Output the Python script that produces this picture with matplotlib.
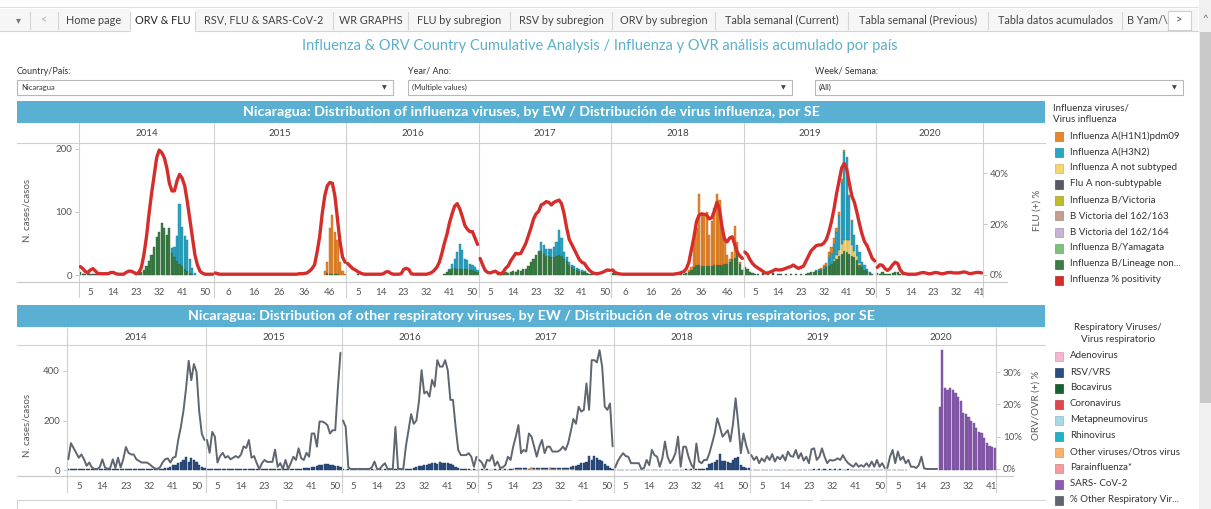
import numpy as np
import matplotlib
matplotlib.use("Agg")
import matplotlib.pyplot as plt
import matplotlib.transforms as mtransforms
from matplotlib.patches import Rectangle
from matplotlib.lines import Line2D
from matplotlib.colors import to_rgb

plt.rcParams["font.family"] = ["Lato", "DejaVu Sans"]

# ---------------- data ----------------
YEARS = [2014, 2015, 2016, 2017, 2018, 2019, 2020]
N_WEEKS = [53, 52, 52, 52, 52, 52, 42]

FLU_TICKS = {2014: [5, 14, 23, 32, 41, 50], 2015: [6, 16, 26, 36, 46], 2016: [5, 14, 23, 32, 41, 50],
             2017: [5, 14, 23, 32, 41, 50], 2018: [6, 16, 26, 36, 46], 2019: [5, 14, 23, 32, 41, 50],
             2020: [5, 14, 23, 32, 41]}
ORV_TICKS = {2014: [5, 14, 23, 32, 41, 50], 2015: [5, 14, 23, 32, 41, 50], 2016: [5, 14, 23, 32, 41, 50],
             2017: [5, 14, 23, 32, 41, 50], 2018: [5, 14, 23, 32, 41, 50], 2019: [5, 14, 23, 32, 41, 50],
             2020: [5, 14, 23, 32, 41]}

# influenza % positivity, weekly
FLU_POS = {
    2014: [3.3, 2.5, 1.3, 1, 2, 2.5, 1.5, 0.5, 0.5, 0.5,
           0.5, 0.5, 1, 1, 0.5, 0.3, 0.3, 0.3, 1, 1.5,
           1.5, 1, 0.5, 1, 3, 8, 15, 24, 32, 39,
           46, 49, 48, 46, 42, 36, 33, 33, 37, 39.5,
           38, 35, 29, 22, 15, 8, 4, 1.5, 0.7, 0.3,
           0.3, 0.3, 0.3],
    2015: [0.8, 0.5, 0.3, 0.3, 0.3, 0.3, 0.3, 0.3, 0.3, 0.3,
           0.3, 0.3, 0.3, 0.3, 0.3, 0.3, 0.3, 0.3, 0.3, 0.3,
           0.3, 0.3, 0.3, 0.3, 0.3, 0.3, 0.3, 0.3, 0.3, 0.3,
           0.3, 0.3, 0.3, 0.5, 0.5, 0.6, 0.8, 1.5, 2.5, 4,
           9, 15, 24, 31, 35, 36.3, 36, 31, 22, 13,
           7, 5],
    2016: [4.5, 3.5, 2.5, 2, 1.3, 0.8, 0.4, 0.3, 0.3, 0.3,
           0.3, 0.3, 0.3, 0.3, 0.5, 1.2, 1.3, 0.6, 0.3, 0.3,
           0.3, 0.5, 2.2, 2.6, 2.2, 0.5, 0.3, 0.3, 0.3, 0.3,
           0.3, 0.3, 0.6, 1, 1.8, 3, 5, 8.5, 12.5, 16,
           20.5, 24, 27, 28, 26, 23, 19.5, 18, 17, 17,
           14.5, 12],
    2017: [6.5, 4, 1.8, 1, 0.8, 1.2, 1.5, 0.8, 0.5, 1,
           2.6, 3.5, 5.5, 7, 8.5, 8.3, 8.5, 10.5, 12.5, 15.5,
           18.5, 22, 24, 25, 27.5, 28, 28.8, 28.5, 27.5, 28.5,
           29, 29.4, 28, 24, 18.5, 14, 12, 10, 8, 6,
           5, 4.5, 3, 1.8, 1, 0.6, 0.5, 0.7, 1, 1.5,
           2, 1.8],
    2018: [2, 1, 0.6, 0.4, 0.3, 0.3, 0.3, 0.3, 0.3, 0.3,
           0.3, 0.3, 0.3, 0.3, 0.3, 0.3, 0.3, 0.3, 0.3, 0.3,
           0.3, 0.3, 0.3, 0.3, 0.3, 0.5, 0.6, 1, 1.3, 2.5,
           5, 10, 15, 21, 23.5, 24, 23.8, 23.5, 22, 22.5,
           25, 28.5, 26, 19, 14, 13, 14.5, 15, 12, 9,
           7.5, 6.5],
    2019: [9, 8, 6, 4.5, 3.5, 2.8, 2.2, 1.5, 0.8, 0.8,
           1.2, 1.6, 2.2, 2, 2, 2.2, 2.6, 3, 3.3, 3.9,
           3.2, 2.6, 3, 3.5, 5.5, 7.5, 9.5, 10.5, 11.5, 11.8,
           11.8, 12.5, 14, 17, 21, 26, 32, 37, 42, 43.8,
           41.5, 36, 31, 28.5, 24.5, 20, 16, 13, 11.5, 9,
           6.5, 5.5],
    2020: [3, 4, 3.8, 2.5, 1.8, 2.5, 4, 5, 4.5, 2,
           0.8, 0.5, 0.3, 0.3, 0.3, 0.3, 0.5, 0.8, 1, 0.8,
           0.5, 0.5, 0.8, 1, 0.8, 0.5, 0.5, 0.8, 1, 1,
           0.8, 0.8, 0.8, 1, 1.2, 1, 0.6, 0.6, 0.8, 1,
           1, 0.8],
}

# influenza cases by subtype: {year: (first week, weekly counts)}
FLU_H1N1 = {2015: (44, [6, 18, 72, 93, 67, 54, 20, 6, 2]),
            2018: (31, [3, 4, 41, 59, 112, 83, 80, 85, 48, 71, 90, 112, 103, 58, 41, 14, 6, 12, 50, 10, 3]),
            2019: (30, [1, 2, 4, 5, 8, 10, 8, 6, 5, 6, 4, 3, 2, 2])}
FLU_H3N2 = {2014: (37, [8, 17, 40, 95, 62, 52, 50, 22, 9, 3]),
            2016: (41, [2, 8, 15, 27, 40, 30, 17, 15, 10, 8, 6, 3]),
            2017: (24, [2, 15, 15, 12, 11, 14, 16, 23, 39, 28, 11, 6, 4, 4, 4, 3, 3, 3, 2]),
            2019: (29, [2, 1, 1, 2, 2, 14, 17, 25, 37, 55, 98, 139, 129, 70, 37, 25, 18, 18, 9, 8, 4, 2])}
FLU_A_NOT_SUBTYPED = {2019: (36, [3, 5, 10, 15, 18, 20, 22, 18, 10, 6, 3])}
FLU_A_NON_SUBTYPABLE = {2014: (1, [2, 1, 1, 2, 1, 0, 1]), 2015: (2, [1, 0, 1]), 2016: (5, [1, 0, 0, 1]),
                        2019: (8, [1, 0, 0, 0, 1, 0, 0, 1]), 2020: (11, [1, 0, 1])}
FLU_B_LINEAGE_NON = {
    2014: (1, [2, 1, 0, 1, 0, 1, 0, 0, 0, 0, 0, 0, 0, 0, 0, 0, 0, 0, 0, 0,
               0, 0, 1, 2, 4, 8, 14, 22, 32, 45, 60, 68, 82, 74, 63, 74, 35, 28, 22, 18,
               14, 10, 6, 3, 2]),
    2015: (45, [3, 2, 2, 2, 1]),
    2016: (39, [2, 4, 8, 10, 11, 10, 10, 10, 9, 9, 8, 8, 7, 5]),
    2017: (8, [2, 1, 3, 4, 3, 5, 6, 5, 8, 7, 9, 10, 15, 20, 26, 32, 36, 38, 33, 30,
               30, 28, 29, 30, 32, 30, 26, 22, 16, 12, 10, 8, 6, 5, 4, 3, 2, 2]),
    2018: (1, [3, 2, 1, 0, 0, 0, 0, 0, 0, 0, 0, 0, 1, 0, 0, 0, 0, 0, 0, 0,
               0, 0, 0, 0, 0, 0, 0, 1, 2, 3, 5, 8, 12, 16, 16, 15, 15, 15, 15, 14,
               16, 16, 16, 16, 17, 18, 20, 25, 27, 43, 18, 8]),
    2019: (1, [13, 10, 4, 3, 2, 1, 0, 2, 0, 1, 0, 2, 0, 1, 0, 0, 2, 0, 1, 0,
               2, 0, 1, 0, 2, 3, 4, 5, 6, 7, 8, 10, 12, 15, 18, 22, 26, 30, 34, 38,
               36, 33, 30, 28, 24, 16, 12, 8, 6, 3, 1, 0]),
    2020: (1, [3, 2, 4, 2, 1, 2, 3, 5, 4, 2]),
}

# other respiratory viruses % positivity, weekly (2020 only until week 20)
ORV_POS = {
    2014: [3, 8, 6.5, 5, 3.5, 4.5, 3, 1, 2, 0.5,
           0, 0, 0.5, 3, 0.5, 0, 0.3, 3, 0.3, 3.5,
           0.5, 3, 6.8, 5, 4.5, 4.5, 3, 2.5, 2, 2,
           2, 1.5, 0.8, 0.2, 0, 0.5, 2, 3, 3.3, 2,
           3.5, 3.8, 9, 13, 18, 25, 33.5, 27.5, 32.5, 30,
           18, 11, 9],
    2015: [9, 5, 11.5, 10, 2, 4, 5, 3.5, 4, 3,
           3.5, 4, 3.5, 4.5, 7, 6.5, 9, 3.5, 4, 1.8,
           0, 1.8, 2.8, 2.2, 2.2, 2.2, 6, 0.7, 1.8, 0,
           2.8, 0, 1.8, 3.8, 2.8, 6.4, 3.3, 2.8, 5, 3.8,
           11, 11, 6.9, 14.7, 14.7, 14.3, 13.6, 11, 12, 12,
           25, 36],
    2016: [15, 13, 0.5, 0, 0, 0, 0, 0, 0, 0,
           0, 0.5, 2.3, 0, 0, 1, 1.8, 0, 0, 0,
           13, 0, 0, 0, 7, 12, 17, 14, 15, 21,
           30.6, 23.4, 24, 22.4, 27.6, 25.5, 33.7, 31.7, 31.7, 33.7,
           30.6, 21.4, 21.4, 13, 5.9, 4.3, 4.3, 4.3, 4.9, 3.8,
           0.7, 3.8],
    2017: [2.8, 2, 0.3, 2.8, 2.5, 4.3, 1, 2.3, 0.3, 0.5,
           1.2, 3.8, 2.8, 6.9, 10, 13.6, 4.9, 5.9, 5.4, 11,
           10, 7, 3.8, 6.9, 9, 4.9, 6.9, 6.9, 5.4, 5.4,
           5.4, 5.9, 6.9, 5.9, 8, 11.6, 15.5, 14, 19.3, 17.8,
           18.3, 26.5, 18.3, 33.7, 33.7, 33, 36.8, 31.7, 19.3, 18.3,
           20.3, 7],
    2018: [0.5, 2.5, 3.8, 4.9, 4, 3.8, 1.8, 1.8, 1.8, 1.8,
           0, 0.3, 2.8, 1.2, 5.9, 4.3, 3.8, 0.7, 3.3, 8.5,
           3.8, 1.8, 3, 4.9, 10, 0.7, 6.9, 6.9, 3.8, 1.5,
           0.2, 7.9, 2.3, 1.8, 2.8, 2.8, 4.9, 7.9, 11, 15.7,
           13, 10, 11, 12, 8.5, 14, 21.9, 14, 4.9, 11,
           7.4, 4.9],
    2019: [4.3, 2.8, 3.8, 1.8, 3.3, 2.3, 4, 2.8, 4.6, 2.3,
           3.8, 3, 4.3, 2.6, 5.4, 4, 3.8, 5.9, 3.3, 4.9,
           2.6, 3.8, 1.8, 6.1, 6.4, 2.8, 3.8, 6.4, 3.8, 1.8,
           2.8, 2.6, 2.8, 3.3, 2.8, 4.3, 2.8, 1.8, 1.2, 0.7,
           1.8, 0.7, 1.2, 0.7, 1.8, 0.7, 2.3, 0.7, 2.8, 0.7,
           1.8, 0.3],
    2020: [0.3, 3.8, 5.9, 1.8, 5.4, 2.8, 3.8, 1.8, 2.8, 0.7,
           0.7, 0.3, 1.2, 3.8, 0.2, 0, 0, 0, 0, 0],
}

ORV_RSV = {
    2014: (1, [6, 5, 6, 4, 5, 6, 5, 4, 5, 6, 5, 4, 5, 6, 5, 4, 5, 6, 5, 4,
               5, 6, 5, 4, 5, 6, 5, 5, 4, 5, 6, 5, 4, 5, 6, 5, 6, 7, 8, 13,
               20, 20, 27, 34, 40, 51, 34, 47, 40, 31, 20, 13, 8]),
    2015: (1, [4, 5, 4, 3, 4, 5, 4, 3, 4, 5, 4, 3, 4, 5, 4, 3, 4, 5, 4, 3,
               4, 5, 4, 3, 4, 5, 4, 3, 4, 5, 4, 3, 4, 5, 6, 5, 6, 7, 8, 10,
               12, 14, 18, 20, 22, 24, 26, 22, 20, 18, 16, 14]),
    2016: (1, [3, 2, 3, 2, 3, 2, 2, 3, 2, 3, 2, 3, 2, 2, 3, 2, 3, 2, 3, 2,
               3, 2, 3, 2, 3, 4, 6, 8, 12, 15, 18, 20, 22, 25, 27, 30, 26, 33, 30, 28,
               27, 25, 20, 12, 8, 5, 4, 3, 3, 2, 3, 2]),
    2017: (1, [2, 3, 2, 3, 2, 2, 3, 2, 3, 2, 3, 2, 3, 2, 3, 2, 3, 2, 3, 2,
               3, 2, 3, 2, 3, 2, 3, 2, 3, 2, 3, 4, 4, 5, 6, 8, 12, 15, 20, 25,
               30, 32, 55, 40, 57, 48, 40, 35, 25, 18, 10, 6]),
    2018: (1, [2, 1, 2, 1, 1, 2, 1, 2, 1, 1, 2, 1, 2, 1, 2, 1, 1, 2, 1, 2,
               1, 2, 1, 2, 1, 2, 2, 3, 2, 3, 2, 3, 3, 4, 5, 8, 25, 30, 34, 40,
               65, 38, 35, 32, 30, 40, 50, 54, 20, 12, 10, 8]),
    2019: (1, [1, 2, 1, 1, 2, 1, 1, 1, 2, 1, 1, 2, 1, 1, 2, 1, 1, 1, 2, 1,
               1, 2, 1, 2, 3, 2, 3, 2, 3, 2, 3, 2, 3, 2, 3, 2, 2, 3, 2, 2,
               2, 1, 2, 1, 1, 2, 1, 1, 1, 1, 1, 1]),
    2020: (1, [2, 1, 2, 1, 1, 2, 1, 1]),
}
ORV_OTHER = {2017: (14, [3, 4, 5, 4, 6, 5, 4, 7, 5, 6, 5, 4, 6, 5, 7, 5, 6, 4, 5, 6,
                         5, 4, 3, 3, 2, 2, 2])}
ORV_SARS = {2020: (21, [256, 485, 330, 323, 330, 323, 310, 296, 280, 232, 225, 215, 200, 189,
                        170, 155, 148, 128, 108, 97, 94, 88])}

FLU_LEGEND = ["Influenza A(H1N1)pdm09", "Influenza A(H3N2)", "Influenza A not subtyped",
              "Flu A non-subtypable", "Influenza B/Victoria", "B Victoria del 162/163",
              "B Victoria del 162/164", "Influenza B/Yamagata", "Influenza B/Lineage non...",
              "Influenza % positivity"]
FLU_COLORS = ["#e8862c", "#2aa6c4", "#f5d570", "#565a63", "#bcbc2e", "#c49e90",
              "#c6b4d8", "#7cc27c", "#3a7e45", "#d62d2b"]
ORV_LEGEND = ["Adenovirus", "RSV/VRS", "Bocavirus", "Coronavirus", "Metapneumovirus", "Rhinovirus",
              "Other viruses/Otros virus", "Parainfluenza*", "SARS- CoV-2", "% Other Respiratory Vir..."]
ORV_COLORS = ["#f5b5d3", "#2b4d80", "#176231", "#e1464d", "#a6dae7", "#1fb2c8",
              "#f8b26d", "#f79a9a", "#8b5cb1", "#5f6670"]

TABS = ["Home page", "ORV & FLU", "RSV, FLU & SARS-CoV-2", "WR GRAPHS", "FLU by subregion",
        "RSV by subregion", "ORV by subregion", "Tabla semanal (Current)", "Tabla semanal (Previous)",
        "Tabla datos acumulados", "B Yam/\\"]

# ---------------- helpers ----------------
W, H = 1211, 509
OFFSET = np.concatenate([[0], np.cumsum(N_WEEKS)[:-1]])
TOTAL = int(sum(N_WEEKS))
TXT = "#555555"
SEP = "#d0d0d0"

fig = plt.figure(figsize=(W / 100, H / 100), dpi=100)
fig.patch.set_facecolor("white")


def fx(x):
    return x / W


def fy(y):
    return 1 - y / H


def rect(x0, y0, x1, y1, **kw):
    fig.add_artist(Rectangle((fx(x0), fy(y1)), (x1 - x0) / W, (y1 - y0) / H,
                             transform=fig.transFigure, **kw))


def hline(x0, x1, y, color=SEP, lw=0.8):
    fig.add_artist(Line2D([fx(x0), fx(x1)], [fy(y), fy(y)], transform=fig.transFigure, color=color, lw=lw))


def vline(x, y0, y1, color=SEP, lw=0.8):
    fig.add_artist(Line2D([fx(x), fx(x)], [fy(y0), fy(y1)], transform=fig.transFigure, color=color, lw=lw))


def ftext(x, y, s, **kw):
    kw.setdefault("va", "center")
    fig.text(fx(x), fy(y), s, **kw)


def darker(c, f=0.75):
    r, g, b = to_rgb(c)
    return (r * f, g * f, b * f)


def expand(series):
    arr = np.zeros(TOTAL)
    for yr, (start, vals) in series.items():
        i0 = OFFSET[YEARS.index(yr)] + start - 1
        arr[i0:i0 + len(vals)] = vals
    return arr


def chart(x0, x1, y0, y1, ylim, ylim2, sep_top, sep_bot, label_y, ticks, tick_pad):
    ax = fig.add_axes([fx(x0), fy(y1), (x1 - x0) / W, (y1 - y0) / H])
    ax2 = ax.twinx()
    for a in (ax, ax2):
        for s in a.spines.values():
            s.set_visible(False)
        a.patch.set_visible(False)
    ax.set_xlim(0, TOTAL)
    ax.set_ylim(*ylim)
    ax2.set_ylim(*ylim2)
    frac = lambda y: (y1 - y) / (y1 - y0)
    tr = mtransforms.blended_transform_factory(ax.transData, ax.transAxes)
    for i, yr in enumerate(YEARS):
        ax.plot([OFFSET[i]] * 2, [frac(sep_bot), frac(sep_top)], transform=tr, color=SEP, lw=0.8, clip_on=False)
        ax.text(OFFSET[i] + N_WEEKS[i] / 2, frac(label_y), str(yr), transform=tr, ha="center", va="center",
                fontsize=7, color="#444444")
    ax.plot([TOTAL] * 2, [frac(sep_bot), frac(sep_top)], transform=tr, color=SEP, lw=0.8, clip_on=False)
    pos, labs = [], []
    for i, yr in enumerate(YEARS):
        for w in ticks[yr]:
            pos.append(OFFSET[i] + w - 0.5)
            labs.append(str(w))
    ax.set_xticks(pos)
    ax.set_xticklabels(labs)
    ax.tick_params(axis="x", length=0, pad=tick_pad, labelsize=7, labelcolor=TXT)
    for a in (ax, ax2):
        a.tick_params(axis="y", length=3, width=0.6, color="#c0c0c0", labelsize=7, labelcolor=TXT, pad=2)
    return ax, ax2


def stack(ax, series_list, colors):
    x = np.arange(TOTAL) + 0.5
    bottom = np.zeros(TOTAL)
    for series, c in zip(series_list, colors):
        vals = expand(series)
        m = vals > 0
        ax.bar(x[m], vals[m], width=0.86, bottom=bottom[m], color=c, edgecolor=darker(c), linewidth=0.3)
        bottom += vals


def year_lines(ax, data, color, lw):
    for i, yr in enumerate(YEARS):
        vals = data[yr]
        x = OFFSET[i] + np.arange(len(vals)) + 0.5
        ax.plot(x, vals, color=color, lw=lw, solid_joinstyle="round", solid_capstyle="round")


# ---------------- header ----------------
hline(0, 1198, 7, color="#e2e2e2")
rect(0, 9, 1198, 31, facecolor="#f6f6f6", edgecolor="none")
rect(130, 9, 195, 32, facecolor="white", edgecolor="none")
hline(0, 130, 31, color="#d4d4d4")
hline(195, 1198, 31, color="#d4d4d4")
ftext(18, 20, "\u25be", ha="center", fontsize=7, color="#777777", family="DejaVu Sans")
ftext(43, 20, "<", ha="center", fontsize=8, color="#aaaaaa")
tab_edges = [58, 130, 195, 333, 408, 510, 612, 715, 848, 988, 1122, 1168]
vline(30, 12, 29, color="#d4d4d4")
for xe in tab_edges:
    vline(xe, 12, 29, color="#d4d4d4")
for i, name in enumerate(TABS[:-1]):
    ftext((tab_edges[i] + tab_edges[i + 1]) / 2, 20, name, ha="center", fontsize=7.8,
          color="#222222" if name == "ORV & FLU" else "#444444")
ftext(1127, 20, TABS[-1], ha="left", fontsize=7.8, color="#444444")
rect(1168, 11, 1191, 30, facecolor="white", edgecolor="#cfcfcf", lw=0.8)
ftext(1179.5, 20, ">", ha="center", fontsize=8, color="#444444")

# scrollbar
rect(1199, 0, 1211, 509, facecolor="#f0f0f0", edgecolor="none")
rect(1200, 32, 1211, 403, facecolor="#c9c9c9", edgecolor="none")
ftext(1205.5, 18, "^", ha="center", fontsize=7, color="#666666")

ftext(600, 46, "Influenza & ORV Country Cumulative Analysis / Influenza y OVR análisis acumulado por país",
      ha="center", fontsize=10.5, color="#5cb0c8")

for lx, rx, lab, val in [(17, 393, "Country/País:", "Nicaragua"), (408, 792, "Year/ Ano:", "(Multiple values)"),
                         (815, 1183, "Week/ Semana:", "(All)")]:
    ftext(lx, 71, lab, ha="left", fontsize=6.5, color="#333333")
    rect(lx, 80, rx, 95, facecolor="white", edgecolor="#b8b8b8", lw=0.8)
    ftext(lx + 4, 87.5, val, ha="left", fontsize=5.5, color="#333333")
    ftext(rx - 9, 87.5, "\u25bc", ha="center", fontsize=4.5, color="#444444", family="DejaVu Sans")

# ---------------- influenza chart ----------------
rect(17, 101, 1045, 123, facecolor="#5ab0d2", edgecolor="none")
ftext(531, 112, "Nicaragua: Distribution of influenza viruses, by EW / Distribución de virus influenza, por SE",
      ha="center", fontsize=10.3, color="white", weight="bold")
hline(17, 1045, 143)
hline(17, 1007, 282, color="#c8c8c8")
ax, ax2 = chart(79, 983, 143, 282, (-11.1, 209.5), (-2.75, 51.8), 123, 297, 134, FLU_TICKS, 4)
ax.set_yticks([0, 100, 200])
ax2.set_yticks([0, 20, 40])
ax2.set_yticklabels(["0%", "20%", "40%"])
stack(ax, [FLU_B_LINEAGE_NON, FLU_A_NON_SUBTYPABLE, FLU_A_NOT_SUBTYPED, FLU_H3N2, FLU_H1N1],
      [FLU_COLORS[8], FLU_COLORS[3], FLU_COLORS[2], FLU_COLORS[1], FLU_COLORS[0]])
year_lines(ax2, FLU_POS, FLU_COLORS[9], 2.4)
ftext(27, 210, "N. cases/casos", ha="center", rotation=90, fontsize=7, color=TXT)
ftext(1037, 210, "FLU (+) %", ha="center", rotation=90, fontsize=7, color=TXT)

ftext(1053, 108, "Influenza viruses/", ha="left", fontsize=7, color="#333333")
ftext(1053, 120, "Virus influenza", ha="left", fontsize=7, color="#333333")
for i, (name, c) in enumerate(zip(FLU_LEGEND, FLU_COLORS)):
    yc = 136 + 16 * i
    rect(1055, yc - 4.5, 1063, yc + 4.5, facecolor=c, edgecolor=darker(c, 0.85), lw=0.5)
    ftext(1070, yc, name, ha="left", fontsize=7, color="#333333")

# ---------------- other respiratory viruses chart ----------------
rect(17, 305, 1045, 327, facecolor="#5ab0d2", edgecolor="none")
ftext(531, 316, "Nicaragua: Distribution of other respiratory viruses, by EW / Distribución de otros virus "
      "respiratorios, por SE", ha="center", fontsize=10.3, color="white", weight="bold")
hline(17, 1045, 345)
hline(17, 1013, 476, color="#c8c8c8")
bx, bx2 = chart(67, 996, 345, 476, (-24.2, 505), (-2.17, 38.4), 327, 492, 337, ORV_TICKS, 4.5)
bx.set_yticks([0, 200, 400])
bx2.set_yticks([0, 10, 20, 30])
bx2.set_yticklabels(["0%", "10%", "20%", "30%"])
stack(bx, [ORV_SARS, ORV_OTHER, ORV_RSV], [ORV_COLORS[8], ORV_COLORS[6], ORV_COLORS[1]])
year_lines(bx2, ORV_POS, ORV_COLORS[9], 1.4)
ftext(27, 425, "N. cases/casos", ha="center", rotation=90, fontsize=7, color=TXT)
ftext(1036, 405, "ORV/OVR (+) %", ha="center", rotation=90, fontsize=7, color=TXT)

ftext(1118, 327, "Respiratory Viruses/", ha="center", fontsize=7, color="#333333")
ftext(1118, 340, "Virus respiratorio", ha="center", fontsize=7, color="#333333")
for i, (name, c) in enumerate(zip(ORV_LEGEND, ORV_COLORS)):
    yc = 356 + 16 * i
    rect(1055, yc - 4.5, 1063, yc + 4.5, facecolor=c, edgecolor=darker(c, 0.85), lw=0.5)
    ftext(1070, yc, name, ha="left", fontsize=7, color="#333333")

# partially visible boxes at the bottom edge
rect(17, 500, 276, 512, facecolor="none", edgecolor="#d0d0d0", lw=0.8)
hline(283, 571, 500, color="#d8d8d8")
hline(578, 812, 500, color="#d8d8d8")
hline(820, 1045, 500, color="#d8d8d8")

fig.savefig("out.png", dpi=100, facecolor="white")
